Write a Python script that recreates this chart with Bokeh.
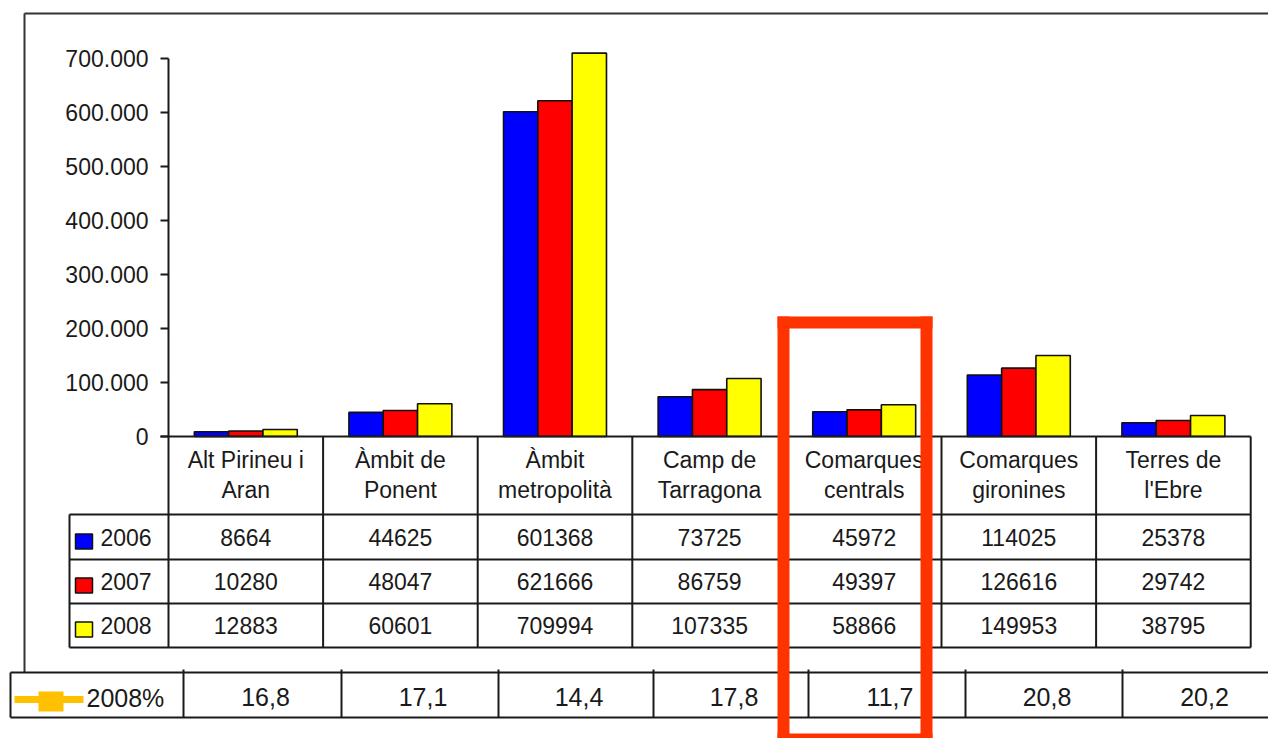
from bokeh.plotting import figure
from bokeh.models import Range1d
from bokeh.core.properties import value
from bokeh.embed import file_html
from bokeh.resources import INLINE

# ---------------- data ----------------
categories = ["Alt Pirineu i\nAran", "Àmbit de\nPonent", "Àmbit\nmetropolità",
              "Camp de\nTarragona", "Comarques\ncentrals", "Comarques\ngironines",
              "Terres de\nl'Ebre"]
years = ["2006", "2007", "2008"]
v2006 = [8664, 44625, 601368, 73725, 45972, 114025, 25378]
v2007 = [10280, 48047, 621666, 86759, 49397, 126616, 29742]
v2008 = [12883, 60601, 709994, 107335, 58866, 149953, 38795]
pct2008 = ["16,8", "17,1", "14,4", "17,8", "11,7", "20,8", "20,2"]
pct_label = "2008%"
y_ticks = [0, 100000, 200000, 300000, 400000, 500000, 600000, 700000]
y_tick_labels = ["0", "100.000", "200.000", "300.000", "400.000", "500.000", "600.000", "700.000"]

colors = ["#0000FF", "#FF0000", "#FFFF00"]
series = [v2006, v2007, v2008]

# ---------------- layout constants (reference pixels) ----------------
W, H = 1268, 738
LEFT, TOP = 0, 0
AXIS_X = 168.0          # x of value axis / first table column
CAT_W = 154.6           # width of a category column
ZERO_Y = 436.0          # pixel y of value 0
PX_PER_VAL = 378.0 / 700000.0

u0 = (LEFT - AXIS_X) / CAT_W
u1 = (LEFT + W - AXIS_X) / CAT_W
vtop = (ZERO_Y - TOP) / PX_PER_VAL
vbot = (ZERO_Y - (TOP + H)) / PX_PER_VAL

p = figure(width=W, height=H, output_backend="svg", toolbar_location=None,
           x_range=Range1d(u0, u1), y_range=Range1d(vbot, vtop),
           x_axis_location=None, y_axis_location=None,
           min_border=0, outline_line_color=None)
p.extra_x_ranges = {"px": Range1d(LEFT, LEFT + W)}
p.extra_y_ranges = {"py": Range1d(TOP + H, TOP)}
p.grid.grid_line_color = None
p.grid.visible = False
p.background_fill_color = "white"
p.border_fill_color = "white"

FONT = value("Liberation Sans")
TXT = "#1a1a1a"
LINE = "#1a1a1a"

# ---------------- bars ----------------
bw = 0.222
offs = [-bw, 0.0, bw]
for s, c, o in zip(series, colors, offs):
    xs = [i + 0.5 + o for i in range(len(categories))]
    p.vbar(x=xs, top=s, bottom=0, width=bw, fill_color=c,
           line_color="#111111", line_width=1.6)

# ---------------- value axis (drawn) ----------------
p.segment(x0=[AXIS_X], y0=[0], x1=[AXIS_X], y1=[max(y_ticks)],
          x_range_name="px", line_color=LINE, line_width=2)
p.segment(x0=[AXIS_X - 8] * len(y_ticks), y0=y_ticks,
          x1=[AXIS_X] * len(y_ticks), y1=y_ticks,
          x_range_name="px", line_color=LINE, line_width=2)
p.text(x=[AXIS_X - 20] * len(y_ticks), y=y_ticks, text=y_tick_labels,
       x_range_name="px", text_font=FONT, text_font_size="23px",
       text_align="right", text_baseline="middle", text_color=TXT)

# ---------------- data table ----------------
n = len(categories)
ROW_TOP = [436, 514, 559, 603, 647]
p.segment(x0=[AXIS_X - 8], y0=[436], x1=[AXIS_X + n * CAT_W], y1=[436],
          x_range_name="px", y_range_name="py", line_color=LINE, line_width=2)
p.segment(x0=[69] * 4, y0=ROW_TOP[1:], x1=[AXIS_X + n * CAT_W] * 4, y1=ROW_TOP[1:],
          x_range_name="px", y_range_name="py", line_color=LINE, line_width=2)
p.segment(x0=list(range(n + 1)), y0=[436] * (n + 1), x1=list(range(n + 1)), y1=[647] * (n + 1),
          y_range_name="py", line_color=LINE, line_width=2)
p.segment(x0=[69], y0=[514], x1=[69], y1=[647],
          x_range_name="px", y_range_name="py", line_color=LINE, line_width=2)

line1 = [c.split("\n")[0] for c in categories]
line2 = [c.split("\n")[1] for c in categories]
cx = [i + 0.5 for i in range(n)]
p.text(x=cx, y=[459] * n, text=line1, y_range_name="py", text_font=FONT,
       text_font_size="23px", text_align="center", text_baseline="middle", text_color=TXT)
p.text(x=cx, y=[489] * n, text=line2, y_range_name="py", text_font=FONT,
       text_font_size="23px", text_align="center", text_baseline="middle", text_color=TXT)

row_mid = [537, 581, 625]
for s, c, ym, yr in zip(series, colors, row_mid, years):
    p.text(x=cx, y=[ym] * n, text=[str(v) for v in s], y_range_name="py",
           text_font=FONT, text_font_size="23px", text_align="center",
           text_baseline="middle", text_color=TXT)
    p.rect(x=[83.5], y=[ym + 4], width=17, height=15, width_units="screen",
           height_units="screen", x_range_name="px", y_range_name="py",
           fill_color=c, line_color="#111111", line_width=1.5)
    p.text(x=[100], y=[ym], text=[yr], x_range_name="px", y_range_name="py",
           text_font=FONT, text_font_size="23px", text_align="left",
           text_baseline="middle", text_color=TXT)

# ---------------- outer frame ----------------
p.segment(x0=[24, 24], y0=[13, 13], x1=[24, 1275], y1=[672, 13],
          x_range_name="px", y_range_name="py", line_color="#333333", line_width=2)

# ---------------- percentage row ----------------
bcols = [10, 183, 341, 498, 653, 808, 965, 1122, 1280]
p.segment(x0=[10, 10], y0=[672, 717], x1=[1275, 1275], y1=[672, 717],
          x_range_name="px", y_range_name="py", line_color=LINE, line_width=2)
p.segment(x0=[10], y0=[672], x1=[10], y1=[717],
          x_range_name="px", y_range_name="py", line_color=LINE, line_width=2)
p.segment(x0=bcols[1:-1], y0=[669] * 7, x1=bcols[1:-1], y1=[717] * 7,
          x_range_name="px", y_range_name="py", line_color=LINE, line_width=2)
pcx = [(a + b) / 2 + 3 for a, b in zip(bcols[1:-1], bcols[2:])]
p.text(x=pcx, y=[696] * len(pct2008), text=pct2008, x_range_name="px", y_range_name="py",
       text_font=FONT, text_font_size="25px", text_align="center",
       text_baseline="middle", text_color=TXT)
p.segment(x0=[14], y0=[699], x1=[83], y1=[699], x_range_name="px", y_range_name="py",
          line_color="#FFC000", line_width=7)
p.rect(x=[50.5], y=[701], width=25, height=20, width_units="screen", height_units="screen",
       x_range_name="px", y_range_name="py", fill_color="#FFC000", line_color=None)
p.text(x=[86], y=[697], text=[pct_label], x_range_name="px", y_range_name="py",
       text_font=FONT, text_font_size="25px", text_align="left",
       text_baseline="middle", text_color=TXT)

# ---------------- highlight box ----------------
p.segment(x0=[783, 926, 783, 783], y0=[322, 322, 322, 739], x1=[783, 926, 926, 926],
          y1=[745, 745, 322, 739], x_range_name="px", y_range_name="py",
          line_color="#FF3300", line_width=12, line_cap="square")

open("out.html", "w").write(file_html(p, INLINE))
